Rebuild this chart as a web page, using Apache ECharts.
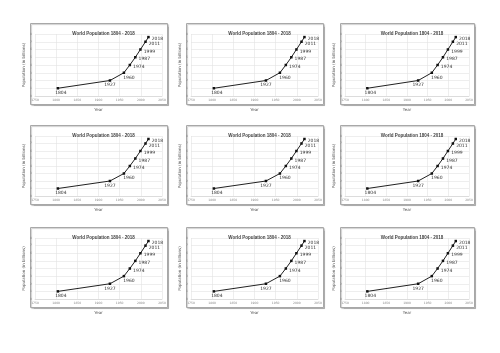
<!DOCTYPE html>
<html>
<head>
<meta charset="utf-8">
<script src="https://cdn.jsdelivr.net/npm/echarts@6/dist/echarts.min.js"></script>
<style>
  html, body { margin: 0; padding: 0; background: #fff; }
  #chart { width: 500px; height: 353px; }
</style>
</head>
<body>
<div id="chart"></div>
<script>
const years = [1804, 1927, 1960, 1974, 1987, 1999, 2011, 2018];
const population = [1, 2, 3, 4, 5, 6, 7, 7.6];
const xTicks = [1750, 1800, 1850, 1900, 1950, 2000, 2050];
const yTicks = [0, 1, 2, 3, 4, 5, 6, 7, 8];

// outer frames of the 3x3 grid of panels
const colBoxes = [[30, 137], [186, 137], [340, 134]];
const rowBoxes = [[23, 81], [125, 79], [227, 80]];

const chart = echarts.init(document.getElementById('chart'));

const grids = [], xAxes = [], yAxes = [], series = [], titles = [], frames = [];

rowBoxes.forEach(([top, h]) => {
  colBoxes.forEach(([left, w]) => {
    const i = grids.length;
    frames.push({
      type: 'rect',
      shape: { x: left + 0.5, y: top + 0.5, width: w, height: h },
      style: { fill: '#fff', stroke: '#a8a8a8', lineWidth: 1, shadowColor: 'rgba(0,0,0,0.2)', shadowOffsetX: 1, shadowOffsetY: 1, shadowBlur: 1 },
      z: -10
    });
    titles.push({
      text: 'World Population 1804 - 2018',
      left: left + w / 2,
      top: top + 3,
      textAlign: 'center',
      textStyle: { fontSize: 4.5, fontWeight: 'bold', color: '#444', fontFamily: 'Liberation Sans' }
    });
    grids.push({
      left: left + 5,
      top: top + 11,
      width: w - 10,
      height: h - 19
    });
    xAxes.push({
      gridIndex: i,
      type: 'value',
      min: xTicks[0],
      max: xTicks[xTicks.length - 1],
      interval: 50,
      name: 'Year',
      nameLocation: 'middle',
      nameGap: 12,
      nameTextStyle: { fontSize: 4, color: '#555', fontFamily: 'DejaVu Sans' },
      axisLine: { show: true, lineStyle: { color: '#d0d0d0', width: 0.6 } },
      axisTick: { show: false },
      axisLabel: { fontSize: 3, color: '#888', margin: 3, fontFamily: 'DejaVu Sans', formatter: v => String(v) },
      splitLine: { show: true, lineStyle: { color: '#e2e2e2', width: 0.6 } }
    });
    yAxes.push({
      gridIndex: i,
      type: 'value',
      min: yTicks[0],
      max: yTicks[yTicks.length - 1],
      interval: 1,
      name: 'Population (in billions)',
      nameLocation: 'middle',
      nameRotate: 90,
      nameGap: 9,
      nameTextStyle: { fontSize: 4, color: '#555', fontFamily: 'DejaVu Sans' },
      axisLine: { show: false },
      axisTick: { show: false },
      axisLabel: { fontSize: 3, color: '#888', margin: 3, fontFamily: 'DejaVu Sans' },
      splitLine: { show: true, lineStyle: { color: '#e2e2e2', width: 0.6 } }
    });
    series.push({
      type: 'line',
      xAxisIndex: i,
      yAxisIndex: i,
      symbol: 'rect',
      symbolSize: 2.5,
      lineStyle: { color: '#222', width: 1 },
      itemStyle: { color: '#111' },
      data: years.map((y, k) => ({
        value: [y, population[k]],
        label: {
          show: true,
          formatter: String(y),
          position: k < 3 ? 'bottom' : 'right',
          distance: k < 3 ? 1 : 2,
          offset: k === 0 ? [3, 0] : k === 2 ? [5, 0] : k < 3 ? [0, 0] : [0, 2],
          fontSize: 4.5,
          color: '#333',
          fontFamily: 'DejaVu Sans'
        }
      })),
      animation: false
    });
  });
});

chart.setOption({
  animation: false,
  title: titles,
  grid: grids,
  xAxis: xAxes,
  yAxis: yAxes,
  series: series,
  graphic: frames
});
</script>
</body>
</html>
